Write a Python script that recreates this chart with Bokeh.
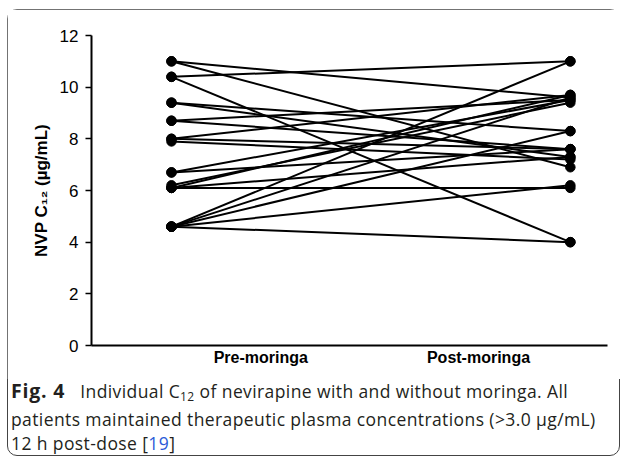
from bokeh.plotting import figure
from bokeh.models import Div, FixedTicker, Range1d
from bokeh.layouts import column
from bokeh.embed import file_html
from bokeh.resources import INLINE

# ---- data ----
categories = ["Pre-moringa", "Post-moringa"]
pre_values = [11.0, 11.0, 10.4, 10.4, 9.4, 9.4, 8.7, 8.7, 8.0, 8.0, 7.9,
              6.7, 6.7, 6.2, 6.1, 6.1, 6.1, 4.6, 4.6, 4.6, 4.6, 4.6]
post_values = [9.6, 6.9, 11.0, 4.0, 8.3, 7.3, 9.5, 7.6, 9.7, 7.6, 7.2,
               9.5, 7.6, 9.4, 9.7, 6.1, 7.3, 11.0, 9.6, 8.3, 6.2, 4.0]
y_ticks = [0, 2, 4, 6, 8, 10, 12]
y_title = "NVP C\u2081\u2082 (µg/mL)"
caption_html = (
    '<div style="font-family:\'Open Sans\'; font-size:17.5px; letter-spacing:0.4px; line-height:24.5px; '
    'color:#231f20; white-space:nowrap; padding:0 0 0 4px; margin:0;">'
    '<b style="font-size:19.5px; letter-spacing:0.8px;">Fig. 4</b>'
    '<span style="display:inline-block; width:15px;"></span>Individual C'
    '<span style="font-size:12px; position:relative; top:3px;">12</span>'
    ' of nevirapine with and without moringa. All<br>'
    'patients maintained therapeutic plasma concentrations (&gt;3.0 µg/mL)<br>'
    '12 h post-dose [<span style="color:#2a5bd7">19</span>]</div>')

# layout positions (fraction of the x axis)
X_PRE, X_POST = 0.155, 0.928
LABEL_POS = [0.328, 0.75]

p = figure(width=613, height=370, output_backend="svg", toolbar_location=None,
           x_range=Range1d(0, 1), y_range=Range1d(0, 12),
           min_border_left=84, min_border_top=26, min_border_right=13, min_border_bottom=34)
p.outline_line_color = None
p.xgrid.visible = False
p.ygrid.visible = False
p.background_fill_color = "white"
p.border_fill_color = "white"

n = len(pre_values)
p.segment(x0=[X_PRE] * n, y0=pre_values, x1=[X_POST] * n, y1=post_values,
          line_color="black", line_width=2)
p.scatter(x=[X_PRE] * n, y=pre_values, size=9.5, color="black")
p.scatter(x=[X_POST] * n, y=post_values, size=9.5, color="black")

ya = p.yaxis[0]
ya.ticker = FixedTicker(ticks=y_ticks)
ya.axis_line_width = 2
ya.major_tick_line_width = 1.5
ya.major_tick_out = 6
ya.major_tick_in = 0
ya.minor_tick_line_color = None
ya.major_label_standoff = 7
ya.major_label_text_font = "Liberation Sans"
ya.major_label_text_font_size = "17px"
ya.major_label_text_color = "black"
ya.axis_label = y_title
ya.axis_label_text_font = "Liberation Sans"
ya.axis_label_text_font_style = "bold"
ya.axis_label_text_font_size = "17px"
ya.axis_label_text_color = "black"
ya.axis_label_standoff = 6

xa = p.xaxis[0]
xa.ticker = FixedTicker(ticks=LABEL_POS)
xa.major_label_overrides = {LABEL_POS[0]: categories[0], LABEL_POS[1]: categories[1]}
xa.axis_line_width = 2
xa.major_tick_line_color = None
xa.minor_tick_line_color = None
xa.major_tick_out = 0
xa.major_label_standoff = 3
xa.major_label_text_font = "Liberation Sans"
xa.major_label_text_font_style = "bold"
xa.major_label_text_font_size = "16px"
xa.major_label_text_color = "black"

caption = Div(text=caption_html, width=613, height=77, margin=0)

layout = column(p, caption, width=613, height=447, spacing=0, margin=(9, 0, 0, 7),
                styles={"outline": "1px solid #444", "outline-offset": "-1px",
                        "border-radius": "10px", "background": "white"})

open("out.html", "w").write(file_html(layout, INLINE))
